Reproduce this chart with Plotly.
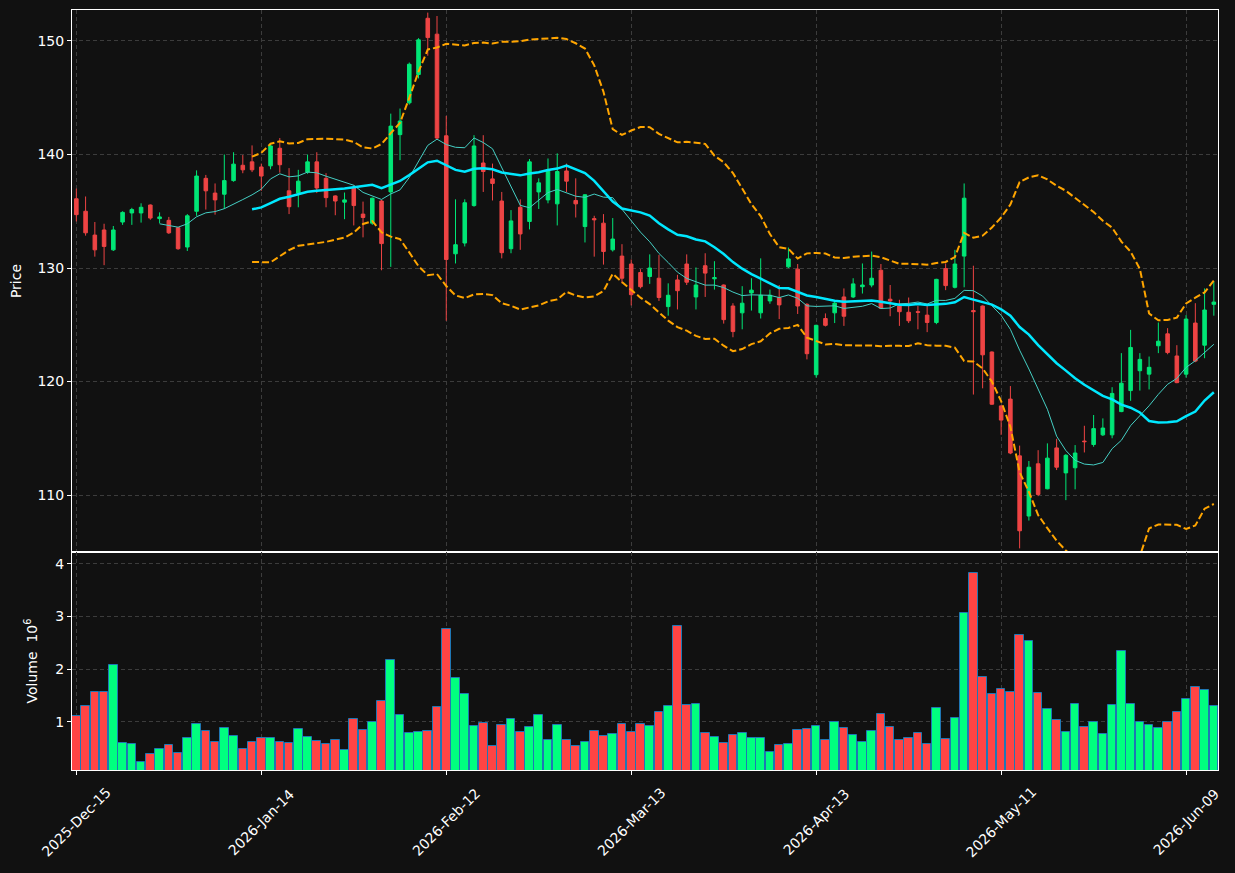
import pandas as pd
import plotly.graph_objects as go
from plotly.subplots import make_subplots

# ---------------- data ----------------
holidays = ['2025-12-25', '2026-01-01', '2026-01-19', '2026-02-16', '2026-04-03', '2026-05-25']
dates = pd.bdate_range('2025-12-15', periods=124, freq='C', holidays=holidays)
date_labels = [d.strftime('%Y-%b-%d') for d in dates]

tick_labels = ['2025-Dec-15', '2026-Jan-14', '2026-Feb-12', '2026-Mar-13',
               '2026-Apr-13', '2026-May-11', '2026-Jun-09']

opens = [136.1, 135.0, 132.9, 133.35, 131.6, 134.05, 134.85, 134.85, 135.55, 134.35,
         134.2, 133.55, 131.85, 135.0, 137.9, 136.6, 136.5, 137.7, 139.05, 139.35,
         138.9, 139.0, 140.55, 136.8, 136.6, 138.45, 139.35, 137.9, 136.35, 135.8,
         137.1, 134.75, 133.95, 135.9, 136.7, 141.75, 144.55, 147.05, 152.0, 150.6,
         141.65, 131.25, 132.2, 135.5, 139.25, 137.85, 135.9, 131.7, 135.35, 134.1,
         136.7, 136.0, 135.65, 138.55, 135.95, 133.65, 134.35, 133.95, 131.6, 131.05,
         130.35, 129.6, 129.25, 129.1, 126.6, 128.95, 130.35, 127.45, 130.2, 129.05,
         128.5, 126.65, 126.05, 127.8, 126.05, 127.1, 127.4, 130.1, 129.9, 126.8,
         120.6, 125.55, 126.05, 127.45, 127.45, 128.35, 128.5, 129.8, 127.25, 126.65,
         126.1, 126.15, 125.85, 125.2, 129.95, 128.3, 131.05, 126.25, 126.65, 122.6,
         117.85, 118.45, 113.45, 108.15, 112.75, 110.55, 114.15, 111.95, 112.4, 114.75,
         114.45, 115.3, 115.3, 117.35, 119.2, 120.95, 120.65, 123.15, 124.2, 122.25,
         120.65, 125.15, 123.2, 126.8]
highs = [137.0, 136.3, 134.05, 133.9, 133.7, 135.0, 135.3, 135.7, 135.6, 134.9,
         134.5, 133.6, 134.75, 138.6, 138.2, 137.45, 140.0, 140.2, 139.95, 140.8,
         139.2, 141.0, 141.45, 138.8, 138.65, 140.0, 140.2, 138.35, 136.4, 136.65,
         137.3, 135.85, 136.2, 136.0, 143.6, 144.05, 148.1, 150.25, 152.5, 152.2,
         143.4, 136.05, 136.05, 141.7, 141.7, 139.2, 136.7, 135.1, 136.05, 139.6,
         137.9, 139.65, 140.1, 139.2, 137.9, 136.5, 134.6, 134.75, 134.4, 132.1,
         130.75, 129.9, 131.2, 131.15, 128.65, 129.4, 131.2, 130.05, 131.3, 130.6,
         128.55, 126.9, 128.4, 129.1, 130.85, 128.1, 128.5, 131.8, 130.35, 126.9,
         125.0, 126.0, 127.1, 128.2, 129.1, 130.4, 131.45, 130.35, 128.5, 127.2,
         127.4, 126.65, 126.75, 129.05, 130.4, 131.6, 137.45, 130.2, 126.7, 122.65,
         117.9, 119.6, 114.35, 113.0, 113.95, 114.55, 114.95, 113.6, 114.4, 116.1,
         117.05, 116.75, 119.5, 122.5, 124.55, 122.5, 122.2, 125.2, 124.7, 123.2,
         125.85, 126.9, 128.2, 128.8]
lows = [134.1, 132.85, 131.0, 130.25, 131.5, 133.8, 133.8, 134.0, 134.25, 133.95,
        133.0, 131.6, 131.5, 134.6, 135.15, 134.7, 135.2, 137.6, 138.35, 138.45,
        136.8, 138.7, 138.4, 134.75, 135.35, 138.3, 136.6, 135.35, 134.65, 134.3,
        133.75, 132.7, 133.8, 129.8, 130.1, 139.5, 144.4, 146.7, 148.7, 141.3,
        125.35, 130.4, 131.9, 135.4, 136.7, 135.95, 130.85, 131.3, 131.6, 133.4,
        135.2, 135.7, 133.75, 136.7, 134.45, 132.25, 131.0, 130.3, 131.45, 128.65,
        126.7, 128.2, 128.6, 127.1, 125.8, 126.35, 128.5, 126.35, 127.45, 128.1,
        125.1, 123.9, 124.6, 126.25, 125.55, 126.85, 125.5, 130.0, 125.95, 121.95,
        120.35, 124.85, 125.15, 124.9, 127.35, 127.75, 128.3, 126.4, 125.75, 124.9,
        125.15, 124.6, 124.35, 125.05, 128.05, 128.2, 128.3, 118.85, 119.4, 117.95,
        115.3, 113.6, 105.3, 107.75, 109.9, 110.5, 112.2, 109.55, 110.5, 113.75,
        114.25, 115.2, 115.0, 117.3, 118.3, 119.2, 119.3, 122.5, 122.4, 119.85,
        120.35, 121.7, 122.05, 125.8]
closes = [134.7, 133.1, 131.6, 131.9, 133.35, 134.9, 135.15, 135.35, 134.4, 134.5,
          133.1, 131.7, 134.6, 138.1, 136.8, 136.0, 137.7, 139.15, 138.65, 138.65,
          138.1, 140.75, 139.1, 135.4, 137.65, 139.35, 137.05, 136.2, 135.9, 136.0,
          135.5, 134.45, 136.15, 132.15, 142.5, 142.95, 147.95, 150.1, 150.3, 141.45,
          130.75, 132.05, 135.75, 140.75, 138.5, 137.45, 131.35, 134.15, 133.0, 139.35,
          137.5, 138.65, 138.5, 137.65, 135.65, 136.45, 134.25, 131.45, 132.55, 129.1,
          127.65, 128.35, 130.0, 127.4, 127.6, 128.0, 128.75, 128.5, 129.55, 129.15,
          125.45, 124.4, 126.9, 128.05, 127.6, 127.6, 126.75, 130.8, 126.65, 122.45,
          124.95, 124.95, 126.9, 125.75, 128.6, 128.5, 129.1, 126.45, 127.1, 126.15,
          125.35, 126.1, 125.2, 129.0, 128.45, 130.35, 136.15, 126.15, 122.35, 118.0,
          116.6, 113.7, 106.85, 112.45, 110.05, 113.25, 112.45, 113.5, 113.7, 114.7,
          115.85, 115.9, 118.95, 119.85, 123.0, 121.95, 121.25, 123.55, 122.55, 119.9,
          125.5, 121.8, 126.3, 127.0]
volume_millions = [1.114, 1.293, 1.56, 1.56, 2.074, 0.589, 0.57, 0.227, 0.379, 0.474,
                   0.55, 0.398, 0.684, 0.95, 0.817, 0.608, 0.874, 0.722, 0.474, 0.608,
                   0.684, 0.684, 0.608, 0.589, 0.855, 0.703, 0.627, 0.57, 0.646, 0.455,
                   1.046, 0.836, 0.989, 1.389, 2.17, 1.122, 0.779, 0.798, 0.817, 1.274,
                   2.76, 1.826, 1.522, 0.912, 0.97, 0.531, 0.931, 1.046, 0.798, 0.893,
                   1.122, 0.646, 0.931, 0.646, 0.531, 0.608, 0.817, 0.722, 0.76, 0.95,
                   0.798, 0.95, 0.912, 1.179, 1.293, 2.817, 1.312, 1.331, 0.779, 0.703,
                   0.589, 0.741, 0.779, 0.684, 0.684, 0.417, 0.55, 0.57, 0.836, 0.855,
                   0.912, 0.646, 0.989, 0.874, 0.741, 0.608, 0.817, 1.141, 0.893, 0.646,
                   0.684, 0.779, 0.57, 1.255, 0.665, 1.065, 3.065, 3.827, 1.846, 1.522,
                   1.617, 1.56, 2.646, 2.531, 1.541, 1.236, 1.027, 0.798, 1.331, 0.893,
                   0.989, 0.76, 1.312, 2.341, 1.331, 0.989, 0.931, 0.874, 0.989, 1.179,
                   1.427, 1.655, 1.598, 1.293]

# ---------------- derived indicators ----------------
close_s = pd.Series(closes)
ma10 = close_s.rolling(10).mean()
ma20 = close_s.rolling(20).mean()
sd20 = close_s.rolling(20).std(ddof=0)
bb_up = ma20 + 2 * sd20
bb_lo = ma20 - 2 * sd20

UP = '#00E676'
DOWN = '#EE4444'
VUP = '#00FF7F'
VDOWN = '#FF4444'
vol_colors = [VUP if c >= o else VDOWN for o, c in zip(opens, closes)]

BG = '#111111'
GRID = '#3c3c3c'
FONT = 'DejaVu Sans'

fig = make_subplots(rows=2, cols=1, shared_xaxes=True, vertical_spacing=0,
                    row_heights=[542, 218])

fig.add_trace(go.Candlestick(
    x=date_labels, open=opens, high=highs, low=lows, close=closes,
    increasing=dict(line=dict(color=UP, width=1), fillcolor=UP),
    decreasing=dict(line=dict(color=DOWN, width=1), fillcolor=DOWN),
    whiskerwidth=0, showlegend=False, hoverinfo='skip'), row=1, col=1)

fig.add_trace(go.Scatter(x=date_labels, y=ma10, mode='lines',
                         line=dict(color='#45CFC4', width=1), showlegend=False), row=1, col=1)
fig.add_trace(go.Scatter(x=date_labels, y=ma20, mode='lines',
                         line=dict(color='#00E8FF', width=2.5), showlegend=False), row=1, col=1)
for band in (bb_up, bb_lo):
    fig.add_trace(go.Scatter(x=date_labels, y=band, mode='lines',
                             line=dict(color='#FFA500', width=2, dash='7px,3px'),
                             showlegend=False), row=1, col=1)

fig.add_trace(go.Bar(x=date_labels, y=volume_millions, width=0.93,
                     marker=dict(color=vol_colors, line=dict(color='#1F77B4', width=1)),
                     showlegend=False), row=2, col=1)

axis_common = dict(showline=True, linecolor='white', linewidth=1, mirror=True,
                   showgrid=True, gridcolor=GRID, griddash='4px,3px', gridwidth=1,
                   zeroline=False, ticks='outside', ticklen=4, tickcolor='white',
                   tickfont=dict(color='white', size=14, family=FONT))

xrange = [-0.47, 123.45]
fig.update_xaxes(**axis_common, type='category', range=xrange,
                 tickmode='array', tickvals=tick_labels, ticktext=tick_labels,
                 rangeslider=dict(visible=False), showticklabels=False)
fig.update_xaxes(ticks='', row=1, col=1)

# rotated date labels centred under their ticks (as in the reference)
for lab in tick_labels:
    fig.add_annotation(x=date_labels.index(lab), xref='x2', y=-0.0684, yref='paper',
                       text=lab, textangle=-45, showarrow=False,
                       xanchor='center', yanchor='middle',
                       font=dict(color='white', size=14, family=FONT))

fig.update_yaxes(**axis_common)
fig.update_yaxes(range=[104.98, 152.73], tickvals=[110, 120, 130, 140, 150],
                 title=dict(text='Price', font=dict(color='white', size=14, family=FONT),
                            standoff=12),
                 row=1, col=1)
fig.update_yaxes(range=[0.08, 4.227], tickvals=[1, 2, 3, 4],
                 title=dict(text='Volume  10<sup>6</sup>',
                            font=dict(color='white', size=14, family=FONT), standoff=14),
                 row=2, col=1)

fig.update_layout(width=1235, height=873, paper_bgcolor=BG, plot_bgcolor=BG,
                  margin=dict(l=72, r=17, t=10, b=103), boxgap=0.45, bargap=0,
                  font=dict(family=FONT, color='white', size=14), showlegend=False)

fig.write_html('out.html')
